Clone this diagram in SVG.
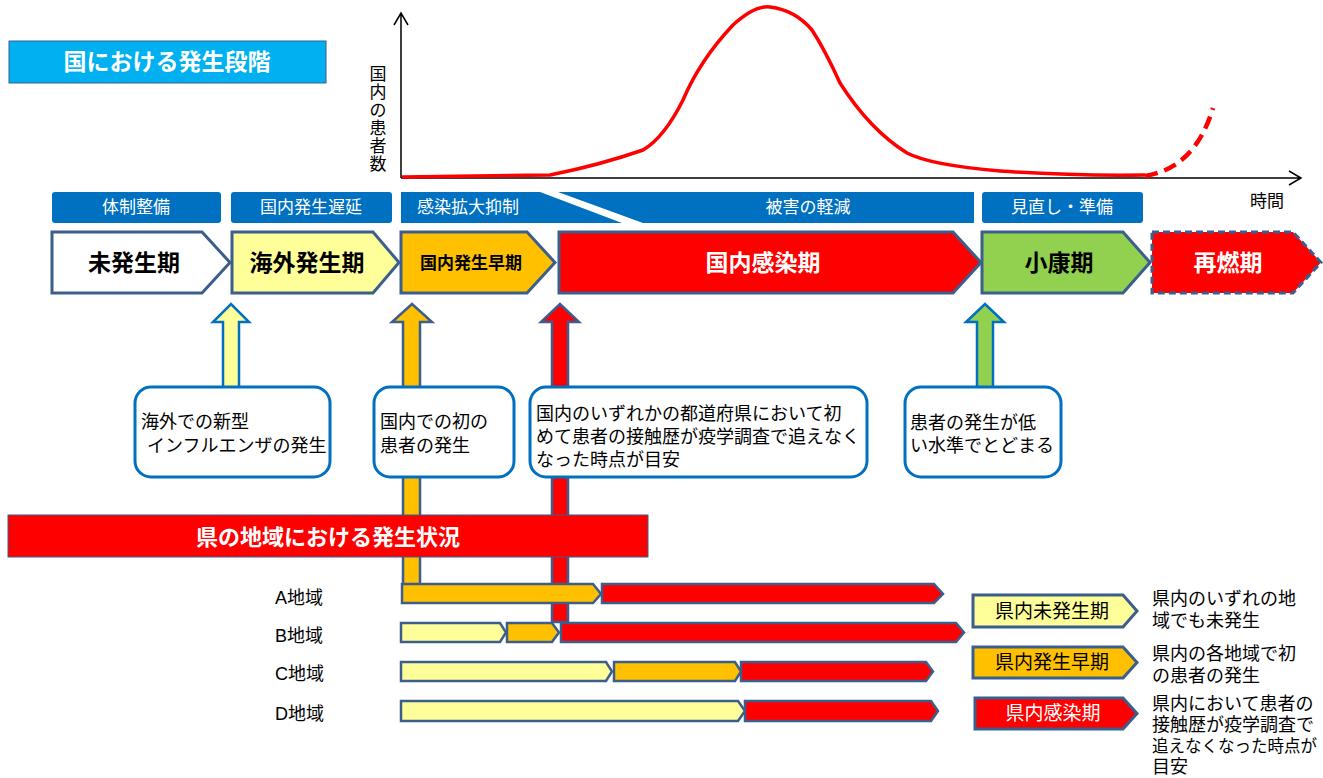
<svg xmlns="http://www.w3.org/2000/svg" width="1323" height="778" viewBox="0 0 1323 778">
<style>
text{font-family:"Liberation Sans","Noto Sans CJK JP",sans-serif;}
.hb{fill:#0070C0;}
.ht{fill:#fff;font-size:17px;text-anchor:middle;}
.ch{stroke:#3B5E8C;stroke-width:3;stroke-linejoin:miter;}
.rb{stroke:#3B5E8C;stroke-width:2.5;}
.pt{font-size:23px;font-weight:bold;text-anchor:middle;}
.cb{fill:#fff;stroke:#0070C0;stroke-width:3;}
.ct{font-size:18px;fill:#000;}
.lt{font-size:18px;fill:#000;}
.y{fill:#FFFF99;}
.o{fill:#FFC000;}
.r{fill:#FF0000;}
.g{fill:#92D050;}
.w{fill:#FFFFFF;}
</style>

<g id="title">
<rect x="9" y="41" width="317" height="42" fill="#00B0F0" stroke="#3B5E8C" stroke-width="1"/>
<text x="167" y="70" fill="#fff" font-size="23" font-weight="bold" text-anchor="middle">国における発生段階</text>
</g>

<g id="graph">
<path d="M401,178 V13 M394,25 L401,13 L408,25" fill="none" stroke="#000" stroke-width="1.5"/>
<path d="M401,178 H1301 M1289,171 L1301,178 L1289,185" fill="none" stroke="#000" stroke-width="1.5"/>
<text font-size="17" fill="#000" text-anchor="middle"><tspan x="378" y="80">国</tspan><tspan x="378" y="98">内</tspan><tspan x="378" y="116">の</tspan><tspan x="378" y="134">患</tspan><tspan x="378" y="152">者</tspan><tspan x="378" y="170">数</tspan></text>
<text x="1250" y="207" font-size="17" fill="#000">時間</text>
<path d="M402,177 L550,175 Q600,165 643,150 C660,140 672,122 683,100 Q700,60 733,25 Q755,5 770,7 Q795,10 812,30 Q825,50 840,83 Q870,130 907,153 Q930,165 1000,171 Q1070,176 1145,175" fill="none" stroke="#FF0000" stroke-width="3.5" stroke-linejoin="round"/>
<path d="M1145,176 Q1195,168 1213,108" fill="none" stroke="#FF0000" stroke-width="4.5" stroke-dasharray="13,7"/>
</g>

<g id="headers">
<rect class="hb" x="52" y="192" width="169" height="31" rx="3"/>
<text class="ht" x="136" y="213">体制整備</text>
<rect class="hb" x="231" y="192" width="161" height="31" rx="3"/>
<text class="ht" x="311" y="213">国内発生遅延</text>
<polygon class="hb" points="401,192 540,192 622,223 401,223"/>
<text class="ht" x="468" y="213">感染拡大抑制</text>
<polygon class="hb" points="558,192 974,192 974,223 643,223"/>
<text class="ht" x="808" y="213">被害の軽減</text>
<rect class="hb" x="982" y="192" width="161" height="31" rx="3"/>
<text class="ht" x="1062" y="213">見直し・準備</text>
</g>

<g id="connectors">
<path d="M223,388 V322 H213 L231,304 L249,322 H239 V388 Z" class="y" stroke="#0070C0" stroke-width="2.5"/>
<path d="M403,586 V322 H392 L412,304 L432,322 H420 V586 Z" class="o" stroke="#3B5E8C" stroke-width="2.5"/>
<path d="M552,622 V322 H541 L560,304 L579,322 H568 V622 Z" class="r" stroke="#3B5E8C" stroke-width="2.5"/>
<path d="M977,388 V322 H966 L985,304 L1004,322 H993 V388 Z" class="g" stroke="#0070C0" stroke-width="2.5"/>
</g>

<g id="phase-mihassei">
<path class="ch w" d="M52,232 H202 L230,262.5 L202,293 H52 Z"/>
<text class="pt" x="134" y="271" fill="#000">未発生期</text>
</g>
<g id="phase-kaigai">
<path class="ch y" d="M232,232 H373 L399,262.5 L373,293 H232 Z"/>
<text class="pt" x="307" y="271" fill="#000">海外発生期</text>
</g>
<g id="phase-soki">
<path class="ch o" d="M401,232 H527 L555,262.5 L527,293 H401 Z"/>
<text x="471" y="269" font-size="17" font-weight="bold" text-anchor="middle" fill="#000">国内発生早期</text>
</g>
<g id="phase-kansen">
<path class="ch r" d="M559,232 H953 L981,262.5 L953,293 H559 Z"/>
<text class="pt" x="763" y="271" fill="#fff">国内感染期</text>
</g>
<g id="phase-shoko">
<path class="ch g" d="M982,232 H1123 L1150,262.5 L1123,293 H982 Z"/>
<text class="pt" x="1059" y="271" fill="#000">小康期</text>
</g>
<g id="phase-sainen">
<path class="ch r" d="M1152,232 H1293 L1321,262.5 L1293,293 H1152 Z" stroke-dasharray="7,4"/>
<text class="pt" x="1228" y="271" fill="#fff">再燃期</text>
</g>

<g id="callout-1">
<rect class="cb" x="135" y="387" width="195" height="90" rx="16"/>
<text class="ct" x="141" y="428">海外での新型</text>
<text class="ct" x="147" y="452">インフルエンザの発生</text>
</g>
<g id="callout-2">
<rect class="cb" x="374" y="387" width="140" height="90" rx="16"/>
<text class="ct" x="380" y="428">国内での初の</text>
<text class="ct" x="380" y="452">患者の発生</text>
</g>
<g id="callout-3">
<rect class="cb" x="530" y="387" width="337" height="90" rx="16"/>
<text class="ct" x="536" y="420">国内のいずれかの都道府県において初</text>
<text class="ct" x="536" y="443">めて患者の接触歴が疫学調査で追えなく</text>
<text class="ct" x="536" y="466">なった時点が目安</text>
</g>
<g id="callout-4">
<rect class="cb" x="905" y="387" width="156" height="90" rx="16"/>
<text class="ct" x="910" y="429">患者の発生が低</text>
<text class="ct" x="910" y="452">い水準でとどまる</text>
</g>

<g id="county-title">
<rect x="8" y="515" width="640" height="42" fill="#FF0000" stroke="#3B5E8C" stroke-width="1"/>
<text x="328" y="545" fill="#fff" font-size="22" font-weight="bold" text-anchor="middle">県の地域における発生状況</text>
</g>

<g id="region-A">
<text class="lt" x="275" y="604">A地域</text>
<path class="rb o" d="M402,584 H593 L601,594 L593,603 H402 Z"/>
<path class="rb r" d="M602,584 H934 L943,594 L934,603 H602 Z"/>
</g>
<g id="region-B">
<text class="lt" x="275" y="642">B地域</text>
<path class="rb y" d="M401,623 H500 L506,632.5 L500,642 H401 Z"/>
<path class="rb o" d="M507,623 H552 L559,632.5 L552,642 H507 Z"/>
<path class="rb r" d="M561,623 H956 L964,632.5 L956,642 H561 Z"/>
</g>
<g id="region-C">
<text class="lt" x="275" y="680">C地域</text>
<path class="rb y" d="M401,662 H606 L612,671.5 L606,681 H401 Z"/>
<path class="rb o" d="M614,662 H735 L741,671.5 L735,681 H614 Z"/>
<path class="rb r" d="M741,662 H926 L933,671.5 L926,681 H741 Z"/>
</g>
<g id="region-D">
<text class="lt" x="275" y="720">D地域</text>
<path class="rb y" d="M401,701 H738 L745,711 L738,721 H401 Z"/>
<path class="rb r" d="M745,701 H931 L938,711 L931,721 H745 Z"/>
</g>

<g id="legend-1">
<path class="ch y" d="M973,595 H1123 L1137,611 L1123,627 H973 Z"/>
<text x="1052" y="618" font-size="19" text-anchor="middle" fill="#000">県内未発生期</text>
<text class="lt" x="1152" y="605">県内のいずれの地</text>
<text class="lt" x="1152" y="627">域でも未発生</text>
</g>
<g id="legend-2">
<path class="ch o" d="M973,647 H1123 L1137,662.5 L1123,678 H973 Z"/>
<text x="1052" y="669" font-size="19" text-anchor="middle" fill="#000">県内発生早期</text>
<text class="lt" x="1152" y="660">県内の各地域で初</text>
<text class="lt" x="1152" y="682">の患者の発生</text>
</g>
<g id="legend-3">
<path class="ch r" d="M975,698 H1123 L1137,713.5 L1123,729 H975 Z"/>
<text x="1053" y="720" font-size="19" text-anchor="middle" fill="#fff">県内感染期</text>
<text class="lt" x="1152" y="710" font-size="17">県内において患者の</text>
<text class="lt" x="1152" y="731" font-size="17">接触歴が疫学調査で</text>
<text class="lt" x="1152" y="752" style="font-size:16.5px">追えなくなった時点が</text>
<text class="lt" x="1152" y="773" font-size="17">目安</text>
</g>
</svg>
